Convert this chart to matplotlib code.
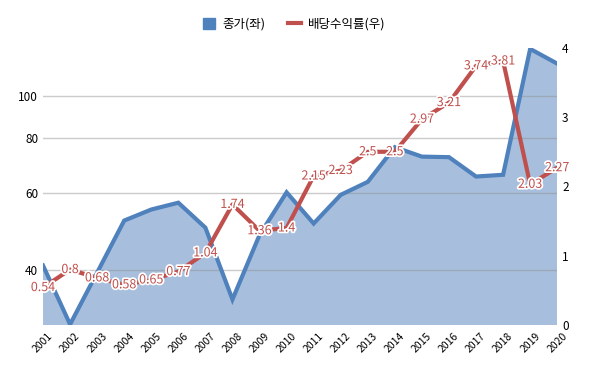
import matplotlib
matplotlib.use("Agg")
import matplotlib.pyplot as plt
import matplotlib.patheffects as pe
from matplotlib.lines import Line2D
from matplotlib.patches import Patch
from matplotlib.ticker import FixedLocator, NullLocator

plt.rcParams['font.family'] = ['Noto Sans CJK KR', 'DejaVu Sans']

years = list(range(2001, 2021))
price = [41.0, 30.1, 39.5, 51.9, 55.0, 57.0, 50.0, 34.3, 48.1, 60.2,
         51.1, 59.4, 63.6, 76.3, 72.6, 72.4, 65.4, 66.0, 127.8, 118.3]
dividend_yield = [0.54, 0.8, 0.68, 0.58, 0.65, 0.77, 1.04, 1.74, 1.36, 1.4,
                  2.15, 2.23, 2.5, 2.5, 2.97, 3.21, 3.74, 3.81, 2.03, 2.27]
left_ticks = [40, 60, 80, 100]
right_ticks = [0, 1, 2, 3, 4]

blue = '#4F81BD'
fill_blue = '#A7BFDD'
red = '#C0504D'

fig = plt.figure(figsize=(6, 3.71), dpi=100)
ax = fig.add_axes([0.0717, 0.124, 0.857, 0.747])

ax.set_yscale('log')
ax.fill_between(years, price, 1, color=fill_blue, zorder=1, lw=0)
ax.plot(years, price, color=blue, lw=3, zorder=3, solid_joinstyle='miter')
ax.set_ylim(30, 128.5)
ax.set_xlim(years[0], years[-1])
ax.yaxis.set_major_locator(FixedLocator(left_ticks))
ax.yaxis.set_minor_locator(NullLocator())
ax.set_yticklabels([str(t) for t in left_ticks])
ax.grid(axis='y', color='#8c8c8c', alpha=0.45, lw=1, zorder=2)
ax.set_axisbelow(False)
ax.set_xticks(years)
ax.set_xticklabels([str(y) for y in years], rotation=45, fontsize=7.5)
ax.tick_params(length=0, labelsize=8.5)
ax.tick_params(axis='x', pad=4, labelsize=7.5)
for s in ax.spines.values():
    s.set_visible(False)

ax2 = ax.twinx()
ax2.plot(years, dividend_yield, color=red, lw=3, zorder=4)
ax2.set_ylim(0, 4)
ax2.set_yticks(right_ticks)
ax2.tick_params(length=0, labelsize=8.5)
for s in ax2.spines.values():
    s.set_visible(False)
for x, v in zip(years, dividend_yield):
    ax2.text(x, v, str(v), color=red, fontsize=9, ha='center', va='center',
             zorder=5, path_effects=[pe.withStroke(linewidth=2.5, foreground='white')])

handles = [Patch(facecolor=blue, edgecolor=blue), Line2D([], [], color=red, lw=3)]
fig.legend(handles, ['종가(좌)', '배당수익률(우)'], loc='center', bbox_to_anchor=(0.49, 0.935),
           ncol=2, frameon=False, fontsize=9, handlelength=1.0, handleheight=1.0,
           columnspacing=1.8, handletextpad=0.6)

fig.savefig('out.png', dpi=100)
